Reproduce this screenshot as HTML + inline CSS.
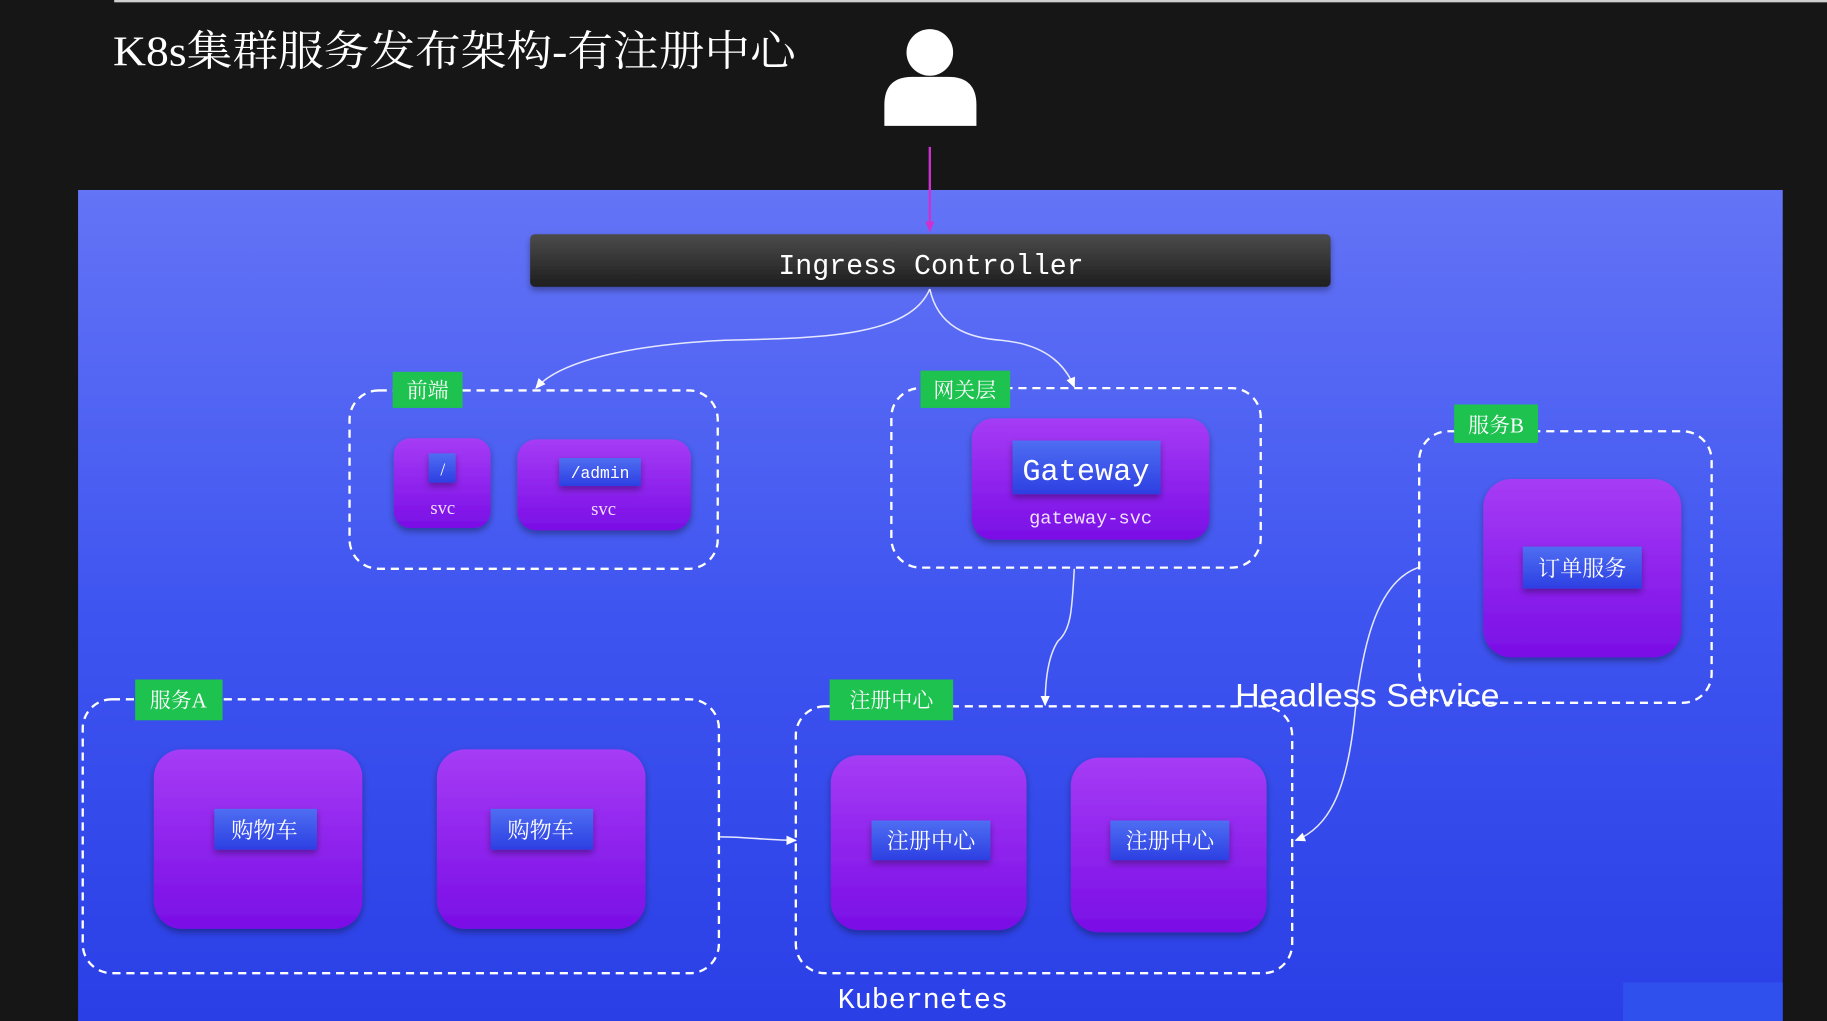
<!DOCTYPE html>
<html><head><meta charset="utf-8"><style>
html,body{margin:0;padding:0;background:#161616;overflow:hidden}
svg{display:block}
.cn{font-family:"Liberation Serif","Noto Serif CJK SC",serif}
.mono{font-family:"Liberation Mono","Noto Sans CJK SC",monospace}
</style></head><body>
<svg width="1827" height="1021" viewBox="0 0 1568 876" preserveAspectRatio="none" xmlns="http://www.w3.org/2000/svg">
<defs>
<linearGradient id="bg" x1="0" y1="0" x2="0" y2="1"><stop offset="0" stop-color="#6474f6"/><stop offset="0.5" stop-color="#3f55f0"/><stop offset="1" stop-color="#2a3fe6"/></linearGradient>
<linearGradient id="bar" x1="0" y1="0" x2="0" y2="1"><stop offset="0" stop-color="#4b4b4b"/><stop offset="1" stop-color="#1e1e1e"/></linearGradient>
<linearGradient id="pod" x1="0" y1="0" x2="0" y2="1"><stop offset="0" stop-color="#a63cf5"/><stop offset="1" stop-color="#7a0ee6"/></linearGradient>
<linearGradient id="lab" x1="0" y1="0" x2="0" y2="1"><stop offset="0" stop-color="#4e6ef2"/><stop offset="1" stop-color="#2d3fe2"/></linearGradient>
<filter id="sh" x="-20%" y="-20%" width="140%" height="140%"><feDropShadow dx="0" dy="3" stdDeviation="3" flood-color="#000" flood-opacity="0.35"/></filter>
<marker id="ar" markerWidth="10" markerHeight="10" refX="8" refY="5" orient="auto" markerUnits="userSpaceOnUse"><path d="M0,1 L9,5 L0,9 z" fill="#fff"/></marker>
<marker id="am" markerWidth="10" markerHeight="10" refX="8" refY="5" orient="auto" markerUnits="userSpaceOnUse"><path d="M0,1 L9,5 L0,9 z" fill="#d030d0"/></marker>
</defs>
<rect x="0" y="0" width="1568" height="876" fill="#161616"/>
<rect x="98" y="0" width="1470" height="2" fill="#cfcfcf"/>
<text x="97" y="56" class="cn" font-size="36" fill="#fff" textLength="586" lengthAdjust="spacingAndGlyphs">K8s集群服务发布架构-有注册中心</text>
<circle cx="798" cy="45" r="20" fill="#fff"/>
<path d="M759,108 L759,90 Q759,66 783,66 L814,66 Q838,66 838,90 L838,108 Z" fill="#fff"/>
<rect x="67" y="163" width="1463" height="713" fill="url(#bg)"/>
<rect x="1393" y="843" width="137" height="33" fill="#3050ee"/>
<line x1="798" y1="126" x2="798" y2="198" stroke="#d030d0" stroke-width="2" marker-end="url(#am)"/>
<rect x="455" y="201" width="687" height="45" rx="4" fill="url(#bar)" filter="url(#sh)"/>
<text x="668" y="235" class="mono" font-size="25" fill="#fff" textLength="262" lengthAdjust="spacingAndGlyphs">Ingress Controller</text>
<g fill="none" stroke="#e6e8ff" stroke-width="1.3">
<path d="M798,248 C780,290 700,290 620,292 C540,296 480,310 460,333" marker-end="url(#ar)"/>
<path d="M798,248 C805,280 830,290 860,292 C900,296 915,315 922,332" marker-end="url(#ar)"/>
<path d="M922,488 C920,520 920,540 908,550 C898,565 897,590 897,605" marker-end="url(#ar)"/>
<path d="M618,718 C640,718 660,721 683,721" marker-end="url(#ar)"/>
<path d="M1217,487 C1180,500 1168,560 1162,620 C1155,680 1140,710 1112,721" marker-end="url(#ar)"/>
</g>
<g fill="none" stroke="#fff" stroke-width="2" stroke-dasharray="7,5">
<rect x="300" y="335" width="316" height="153" rx="25"/>
<rect x="765" y="333" width="317" height="154" rx="25"/>
<rect x="1218" y="370" width="251" height="233" rx="25"/>
<rect x="71" y="600" width="546" height="235" rx="25"/>
<rect x="683" y="606" width="426" height="229" rx="25"/>
</g>
<g fill="#1dc24f">
<rect x="337" y="319" width="60" height="31"/>
<rect x="790" y="318" width="77" height="32"/>
<rect x="1248" y="347" width="72" height="33"/>
<rect x="116" y="583" width="75" height="35"/>
<rect x="712" y="583" width="106" height="35"/>
</g>
<g class="cn" font-size="18" fill="#fff" text-anchor="middle">
<text x="367" y="341">前端</text>
<text x="828" y="341">网关层</text>
<text x="1284" y="371">服务B</text>
<text x="153" y="607">服务A</text>
<text x="765" y="607">注册中心</text>
</g>
<g fill="url(#pod)" filter="url(#sh)">
<rect x="338" y="376" width="83" height="77" rx="14"/>
<rect x="444" y="377" width="149" height="78" rx="16"/>
<rect x="834" y="359" width="204" height="104" rx="18"/>
<rect x="1273" y="411" width="170" height="153" rx="24"/>
<rect x="132" y="643" width="179" height="154" rx="24"/>
<rect x="375" y="643" width="179" height="154" rx="24"/>
<rect x="713" y="648" width="168" height="150" rx="24"/>
<rect x="919" y="650" width="168" height="150" rx="24"/>
</g>
<g fill="url(#lab)" filter="url(#sh)">
<rect x="368" y="389" width="23" height="25"/>
<rect x="480" y="393" width="70" height="24"/>
<rect x="869" y="378" width="127" height="46"/>
<rect x="1307" y="469" width="102" height="36"/>
<rect x="184" y="694" width="88" height="35"/>
<rect x="421" y="694" width="88" height="35"/>
<rect x="748" y="704" width="102" height="34"/>
<rect x="953" y="704" width="102" height="34"/>
</g>
<g class="cn" fill="#fff" text-anchor="middle">
<text x="380" y="408" font-size="15">/</text>
<text x="515" y="410" font-size="14" class="mono">/admin</text>
<text x="380" y="441" font-size="16" fill="#f0e0ff">svc</text>
<text x="518" y="442" font-size="16" fill="#f0e0ff">svc</text>
<text x="932" y="412" font-size="26" class="mono">Gateway</text>
<text x="936" y="449" font-size="16" class="mono" fill="#f0e0ff">gateway-svc</text>
<text x="1358" y="494" font-size="19">订单服务</text>
<text x="227" y="719" font-size="19">购物车</text>
<text x="464" y="719" font-size="19">购物车</text>
<text x="799" y="728" font-size="19">注册中心</text>
<text x="1004" y="728" font-size="19">注册中心</text>
</g>
<text x="1060" y="606" font-family="Liberation Sans, sans-serif" font-size="28" fill="#fff" textLength="227" lengthAdjust="spacingAndGlyphs">Headless Service</text>
<text x="719" y="865" class="mono" font-size="25" fill="#fff" textLength="146" lengthAdjust="spacingAndGlyphs">Kubernetes</text>
</svg>
</body></html>
